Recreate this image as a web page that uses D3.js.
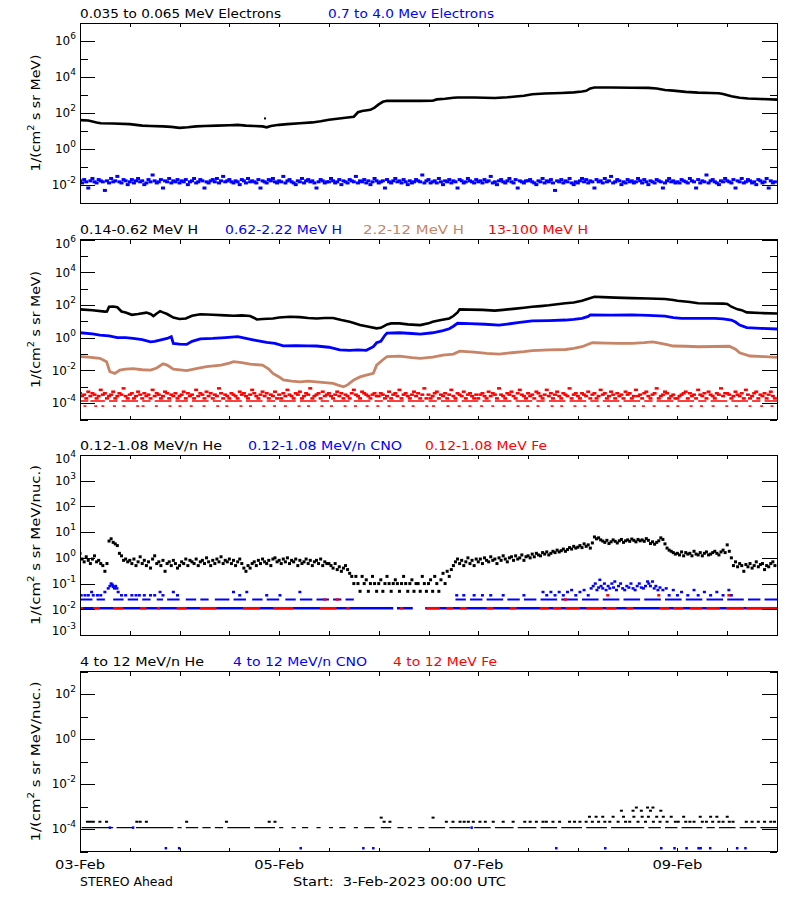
<!DOCTYPE html>
<html><head><meta charset="utf-8">
<script src="https://cdn.jsdelivr.net/npm/d3@7"></script>
<style>
body{margin:0;background:#fff}
svg{display:block}
text{font-family:"DejaVu Sans",sans-serif;white-space:pre}
</style>
</head><body>
<svg id="chart" width="800" height="900"></svg>
<script>
// ---------------- DATA ----------------
// time in hours since 3-Feb-2023 00:00 UTC
const dayLabels = ["03-Feb","05-Feb","07-Feb","09-Feb"];
const dayLabelHours = [0,48,96,144];

// Panel 1 : electrons
const elecLowTitle = "0.035 to 0.065 MeV Electrons";
const elecHighTitle = "0.7 to 4.0 Mev Electrons";
const elecLow = [[0,40],[2,38],[4,30],[5,27],[8,26],[12,24],[15,20],[17,19],[20,18],[22,17],[24,15],[26,16],[28,18],[30,19],[33,20],[36,21],[38,22],[40,20],[42,19],[44,18],[45,16],[46,19],[48,22],[50,24],[53,27],[56,30],[58,35],[60,42],[62,48],[64,55],[66,62],[67,110],[68,130],[70,150],[71,200],[72,300],[73,420],[74,480],[78,470],[82,470],[85,480],[86,570],[88,620],[90,700],[91,720],[95,720],[100,680],[103,750],[105,820],[107,900],[109,1100],[112,1200],[116,1300],[119,1400],[121,1550],[122,1700],[123,2300],[124,2600],[128,2600],[133,2550],[137,2500],[139,2300],[141,1900],[143,1750],[146,1500],[149,1350],[152,1300],[154,1250],[155,1150],[157,850],[159,700],[161,640],[164,600],[168,550]];
const elecLowSpike = [[44.6,50]];
// half-hourly values
const elecHigh = [
0.017,0.013,0.02,0.015,0.0068,0.017,0.023,0.015,0.013,0.02,0.017,0.015,0.005,0.017,0.013,0.023,0.015,0.017,0.03,0.015,0.013,0.02,0.017,0.0105,
0.015,0.02,0.013,0.017,0.023,0.015,0.017,0.0105,0.013,0.02,0.015,0.036,0.017,0.013,0.015,0.02,0.0068,0.017,0.015,0.023,0.013,0.017,0.015,0.02,
0.013,0.017,0.015,0.02,0.0105,0.015,0.017,0.023,0.013,0.015,0.02,0.017,0.0068,0.015,0.013,0.017,0.02,0.015,0.023,0.013,0.017,0.03,0.015,0.017,
0.02,0.015,0.013,0.017,0.015,0.0105,0.02,0.017,0.013,0.023,0.015,0.017,0.015,0.013,0.02,0.0068,0.017,0.015,0.013,0.02,0.017,0.023,0.015,0.013,
0.017,0.015,0.03,0.013,0.017,0.02,0.015,0.013,0.0105,0.017,0.015,0.023,0.013,0.017,0.02,0.015,0.017,0.013,0.0068,0.015,0.02,0.017,0.013,0.015,
0.015,0.023,0.017,0.013,0.015,0.02,0.0105,0.017,0.015,0.013,0.02,0.017,0.015,0.03,0.013,0.017,0.015,0.02,0.013,0.017,0.0105,0.015,0.023,0.017,
0.013,0.015,0.017,0.0068,0.02,0.015,0.013,0.017,0.023,0.015,0.017,0.013,0.02,0.015,0.0105,0.017,0.013,0.015,0.02,0.017,0.015,0.036,0.013,0.017,
0.02,0.013,0.015,0.017,0.013,0.023,0.015,0.0105,0.017,0.015,0.02,0.013,0.017,0.015,0.0068,0.02,0.017,0.013,0.015,0.023,0.017,0.015,0.013,0.02,
0.015,0.017,0.013,0.02,0.015,0.017,0.03,0.013,0.015,0.0105,0.017,0.02,0.015,0.013,0.017,0.023,0.015,0.013,0.02,0.0068,0.017,0.015,0.013,0.017,
0.017,0.02,0.015,0.013,0.0105,0.017,0.015,0.023,0.013,0.017,0.015,0.02,0.013,0.005,0.017,0.015,0.02,0.013,0.017,0.015,0.023,0.013,0.0105,0.015,
0.013,0.017,0.023,0.015,0.02,0.013,0.017,0.015,0.0068,0.02,0.015,0.017,0.013,0.023,0.015,0.017,0.03,0.013,0.015,0.02,0.017,0.0105,0.015,0.013,
0.02,0.015,0.017,0.013,0.015,0.023,0.017,0.013,0.02,0.015,0.0105,0.017,0.015,0.013,0.02,0.017,0.015,0.0068,0.013,0.017,0.023,0.015,0.017,0.013,
0.015,0.013,0.02,0.017,0.015,0.013,0.023,0.017,0.015,0.0068,0.02,0.013,0.017,0.015,0.036,0.013,0.017,0.02,0.015,0.013,0.0105,0.017,0.015,0.023,
0.017,0.015,0.013,0.02,0.0068,0.017,0.015,0.023,0.013,0.015,0.02,0.017,0.013,0.015,0.0105,0.02,0.017,0.013,0.015,0.023,0.0068,0.017,0.013,0.015];

// Panel 2 : protons
const protonTitles = ["0.14-0.62 MeV H","0.62-2.22 MeV H","2.2-12 MeV H","13-100 MeV H"];
const protonLow = [[0,54],[3,48],[6,39],[6.5,40],[7,78],[8,80],[9,72],[10,40],[11,35],[12.5,25],[14,28],[16,34],[17,28],[17.7,21],[18.5,30],[19.3,42],[20,35],[21,28],[22.5,17],[24,14],[25.5,15],[27,22],[29,27],[32,25],[35,23],[37,22],[39,23],[41,21],[42,16],[42.6,13],[44,14],[46.5,15],[48,17],[50.6,19],[53,18],[55,16],[57,15],[59,16],[61,16],[63,12],[65,9.5],[66,8],[67.5,6],[69,5],[71.5,3.7],[72.5,4],[73.5,5.5],[74,6.5],[75,7.5],[77,7.5],[79,6.5],[82,5.9],[84,7.5],[85,9.5],[87,12],[89,15],[90,21],[91,35],[91.5,54],[94,52],[97,50],[100,45],[102,50],[105,60],[107,68],[109,78],[111,85],[113,95],[117,126],[119,140],[121,182],[122.5,240],[124,316],[126,300],[129,280],[133,263],[137,250],[141,229],[143,200],[144,182],[147,150],[149,126],[152,122],[155,120],[156,115],[157,78],[158.5,54],[159.5,48],[160.7,35],[164,32],[168,30]];
const protonMid = [[0,2.0],[3,1.7],[4.8,1.45],[7,1.3],[9,1.0],[11,1.0],[12.8,0.9],[15,0.75],[17,0.56],[18,0.6],[20,0.8],[21,0.9],[22,1.15],[22.5,0.45],[24,0.4],[25.7,0.39],[27,0.6],[29,0.85],[32,0.9],[35,1.0],[38,1.15],[40,0.9],[42,0.72],[45,0.52],[47,0.45],[49,0.32],[52,0.33],[55,0.32],[57,0.31],[60,0.26],[62.6,0.18],[65,0.17],[67,0.18],[69,0.17],[70.7,0.28],[71.5,0.49],[72.5,0.6],[73.5,1.4],[74,1.9],[77,2.0],[80,1.8],[82,1.66],[85,2.0],[87.5,2.7],[89,3.5],[90,5],[91,7.6],[94,7.2],[97.6,6.6],[101,5.9],[103,6.8],[106,8.5],[109,10.5],[113,11],[117,12],[119,13],[121,15],[122.5,20],[123,25],[128,24],[133,25],[137,23],[141,21],[143,17],[145,15],[150,15],[153,15],[155,14],[157,12],[158,9],[159,5.9],[160.7,4.1],[164,3.7],[168,3.4]];
const protonHigh = [[0,0.069],[2,0.065],[4.8,0.055],[6.4,0.034],[7.2,0.0083],[8.4,0.0066],[9.6,0.0105],[11,0.012],[12.8,0.013],[15,0.011],[17,0.0105],[18.5,0.014],[20,0.025],[21,0.021],[22.5,0.012],[25.7,0.0096],[28,0.013],[30.5,0.017],[34,0.021],[36,0.028],[37,0.034],[39,0.03],[41,0.024],[44,0.021],[45.5,0.012],[46.5,0.0066],[48,0.004],[49,0.0026],[51,0.0022],[53,0.002],[55,0.0022],[57,0.002],[59,0.0018],[61,0.0016],[62,0.0013],[63.5,0.001],[64.5,0.0013],[66,0.0026],[67.5,0.004],[69,0.0052],[70.7,0.0066],[71.5,0.021],[73,0.045],[74,0.069],[77,0.075],[80,0.06],[82,0.055],[85,0.065],[87.5,0.087],[90,0.1],[91.5,0.15],[95,0.13],[98,0.11],[101,0.1],[104,0.12],[107,0.14],[109,0.16],[113,0.18],[117,0.19],[119,0.22],[121,0.28],[122.5,0.4],[123.5,0.49],[127,0.46],[130,0.45],[133,0.45],[136,0.5],[138,0.56],[140,0.45],[141.5,0.38],[143,0.31],[146,0.3],[149,0.28],[153,0.29],[156.5,0.3],[158,0.2],[159,0.12],[161.5,0.076],[165,0.07],[168,0.063]];
// half-hourly values, 13-100 MeV H
const protonVHigh = [
4e-4,2.7e-4,3.3e-4,1.95e-4,5e-4,2.7e-4,4e-4,3.3e-4,1.95e-4,2.7e-4,6.5e-4,3.3e-4,4e-4,1.95e-4,2.7e-4,3.3e-4,5e-4,1.95e-4,2.7e-4,4e-4,3.3e-4,8e-4,2.7e-4,1.95e-4,
3.3e-4,4e-4,1.95e-4,2.7e-4,5e-4,3.3e-4,1.95e-4,4e-4,2.7e-4,3.3e-4,1.95e-4,6.5e-4,2.7e-4,4e-4,3.3e-4,1.95e-4,2.7e-4,5e-4,4e-4,1.95e-4,3.3e-4,2.7e-4,4e-4,1.95e-4,
2.7e-4,3.3e-4,5e-4,1.95e-4,4e-4,2.7e-4,3.3e-4,1.95e-4,6.5e-4,2.7e-4,4e-4,3.3e-4,1.95e-4,5e-4,2.7e-4,4e-4,1.95e-4,3.3e-4,2.7e-4,8e-4,4e-4,1.95e-4,3.3e-4,2.7e-4,
1.95e-4,4e-4,3.3e-4,2.7e-4,1.95e-4,5e-4,3.3e-4,4e-4,2.7e-4,1.95e-4,3.3e-4,6.5e-4,4e-4,2.7e-4,1.95e-4,3.3e-4,5e-4,2.7e-4,4e-4,1.95e-4,3.3e-4,2.7e-4,5e-4,1.95e-4,
3.3e-4,1.95e-4,4e-4,2.7e-4,6.5e-4,3.3e-4,2.7e-4,1.95e-4,4e-4,3.3e-4,5e-4,1.95e-4,2.7e-4,4e-4,3.3e-4,8e-4,1.95e-4,2.7e-4,3.3e-4,4e-4,1.95e-4,5e-4,2.7e-4,3.3e-4,
4e-4,2.7e-4,1.95e-4,3.3e-4,5e-4,2.7e-4,4e-4,1.95e-4,3.3e-4,2.7e-4,1.95e-4,4e-4,6.5e-4,3.3e-4,2.7e-4,1.95e-4,5e-4,4e-4,3.3e-4,2.7e-4,1.95e-4,3.3e-4,4e-4,2.7e-4,
2.7e-4,4e-4,3.3e-4,1.95e-4,2.7e-4,5e-4,1.95e-4,3.3e-4,4e-4,2.7e-4,6.5e-4,1.95e-4,3.3e-4,4e-4,2.7e-4,1.95e-4,3.3e-4,5e-4,2.7e-4,4e-4,1.95e-4,3.3e-4,8e-4,1.95e-4,
3.3e-4,1.95e-4,2.7e-4,4e-4,5e-4,1.95e-4,3.3e-4,2.7e-4,4e-4,1.95e-4,3.3e-4,6.5e-4,2.7e-4,1.95e-4,4e-4,3.3e-4,2.7e-4,5e-4,1.95e-4,3.3e-4,4e-4,2.7e-4,1.95e-4,3.3e-4,
1.95e-4,3.3e-4,4e-4,2.7e-4,1.95e-4,5e-4,2.7e-4,4e-4,3.3e-4,1.95e-4,8e-4,3.3e-4,2.7e-4,1.95e-4,4e-4,3.3e-4,5e-4,2.7e-4,1.95e-4,4e-4,6.5e-4,3.3e-4,2.7e-4,1.95e-4,
4e-4,2.7e-4,3.3e-4,1.95e-4,5e-4,4e-4,2.7e-4,1.95e-4,3.3e-4,6.5e-4,2.7e-4,4e-4,1.95e-4,3.3e-4,5e-4,2.7e-4,1.95e-4,4e-4,3.3e-4,2.7e-4,8e-4,1.95e-4,3.3e-4,4e-4,
2.7e-4,1.95e-4,4e-4,3.3e-4,2.7e-4,5e-4,1.95e-4,3.3e-4,4e-4,1.95e-4,2.7e-4,6.5e-4,3.3e-4,4e-4,1.95e-4,2.7e-4,5e-4,3.3e-4,1.95e-4,4e-4,2.7e-4,3.3e-4,1.95e-4,5e-4,
3.3e-4,4e-4,1.95e-4,2.7e-4,6.5e-4,2.7e-4,3.3e-4,1.95e-4,4e-4,5e-4,2.7e-4,1.95e-4,3.3e-4,4e-4,8e-4,1.95e-4,2.7e-4,3.3e-4,5e-4,4e-4,1.95e-4,2.7e-4,3.3e-4,1.95e-4,
1.95e-4,2.7e-4,3.3e-4,4e-4,5e-4,1.95e-4,4e-4,2.7e-4,3.3e-4,1.95e-4,6.5e-4,3.3e-4,2.7e-4,4e-4,1.95e-4,5e-4,3.3e-4,2.7e-4,1.95e-4,4e-4,3.3e-4,8e-4,2.7e-4,4e-4,
4e-4,3.3e-4,1.95e-4,2.7e-4,5e-4,3.3e-4,2.7e-4,4e-4,1.95e-4,6.5e-4,3.3e-4,1.95e-4,2.7e-4,4e-4,5e-4,1.95e-4,3.3e-4,2.7e-4,4e-4,1.95e-4,3.3e-4,5e-4,2.7e-4,1.95e-4];
const protonVHighRowLevel = 1.35e-4;
const protonVHighRow = [[0,2],[2.5,6],[7,9],[10,14],[15,17],[18,22],[23,26],[27,31],[32,34],[35,39],[40,44],[45,47],[48,52],[53,57],[58,60],[61,65],[66,70],[71,73],[74,78],[79,83],[84,86],[87,91],[92,96],[97,99],[100,104],[105,109],[110,112],[113,117],[118,122],[123,125],[126,130],[131,135],[136,138],[139,143],[144,148],[149,151],[152,156],[157,161],[162,164],[165,168]];
const protonVHighLowLevel = 6.6e-5;
const protonVHighLow = [1.2,3.8,5.5,8.3,10.6,13.9,15.2,18.4,21.7,24.1,26.8,29.9,33.2,35.4,38.8,41.1,44.3,46.9,49.5,52.8,55.1,58.3,60.6,63.9,66.4,69.2,71.8,74.5,77.9,80.3,83.6,85.2,88.7,91.4,94.0,96.8,99.5,102.2,105.6,107.9,110.4,113.8,116.1,119.3,121.7,124.9,127.4,130.2,133.6,135.8,138.4,141.7,144.1,147.3,149.8,152.6,155.9,158.2,161.5,164.3,166.8];

// Panel 3 : low energy heavy ions
const ionLowTitles = ["0.12-1.08 MeV/n He","0.12-1.08 MeV/n CNO","0.12-1.08 MeV Fe"];
// half-hourly He values
const heLow = [
1.5,0.9,0.7,1.1,0.8,0.6,0.9,1.2,0.7,0.8,0.6,0.5,0.3,0.6,4.5,5.5,4.0,3.5,3.0,1.5,1.2,0.8,0.9,0.7,
0.8,0.6,0.9,0.5,0.7,1.1,0.6,0.8,0.5,0.7,0.4,0.9,1.2,0.6,0.7,0.5,0.8,0.3,0.6,0.7,0.5,0.8,0.6,0.4,
0.5,0.7,0.6,0.9,0.5,0.8,0.7,0.6,0.9,0.5,0.7,0.8,0.6,1.0,0.7,0.5,0.8,0.6,0.9,0.7,1.1,0.6,0.8,0.7,
0.9,0.6,0.8,0.5,0.7,0.9,0.6,0.4,0.3,0.5,0.4,0.6,0.7,0.5,0.8,0.6,0.9,0.7,0.6,0.8,0.5,0.9,1.0,0.7,
0.8,0.6,0.9,0.7,1.0,0.6,0.8,0.7,0.9,0.5,0.8,0.6,0.7,0.9,0.6,0.8,0.5,0.7,0.8,0.6,0.9,0.5,0.7,0.6,
0.6,0.5,0.4,0.6,0.35,0.45,0.3,0.4,0.5,0.35,0.25,0.19,0.1,0.19,0.1,0.05,0.19,0.1,0.14,0.05,0.1,0.19,0.1,0.05,
0.1,0.14,0.05,0.1,0.19,0.1,0.05,0.1,0.14,0.1,0.05,0.1,0.19,0.1,0.05,0.1,0.14,0.05,0.1,0.1,0.05,0.19,0.1,0.05,
0.1,0.14,0.05,0.19,0.1,0.05,0.14,0.25,0.1,0.3,0.19,0.35,0.5,0.7,0.9,0.6,0.8,0.5,0.7,1.0,0.6,0.8,0.5,0.9,
0.7,0.9,0.6,1.0,0.8,0.7,1.1,0.8,0.9,0.6,1.0,0.8,1.2,0.9,0.7,1.0,1.1,0.8,1.2,0.9,1.0,1.3,0.8,1.1,
1.2,1.0,1.4,1.1,1.5,1.3,1.2,1.6,1.4,1.7,1.3,1.5,1.8,1.6,2.0,1.7,1.9,2.2,1.8,2.1,2.5,2.2,2.8,2.4,
2.6,3.0,2.5,3.5,2.8,3.2,2.4,3.8,6.5,5.5,6.0,5.0,4.5,4.0,4.8,3.6,4.2,5.0,4.4,3.8,4.6,5.2,4.0,4.6,
5.0,4.4,5.4,4.8,4.2,5.2,4.6,5.0,4.4,5.6,4.8,3.6,4.2,3.4,4.0,4.6,6.0,5.2,3.5,2.4,2.0,1.8,1.6,1.4,
1.5,1.3,1.7,1.2,1.6,1.4,1.5,1.2,1.8,1.4,1.3,1.6,1.2,1.5,1.7,1.3,1.4,1.6,1.8,1.5,1.3,1.7,2.0,1.6,
3.2,1.8,1.0,0.5,0.7,0.45,0.6,0.5,0.3,0.55,0.45,0.6,0.4,0.5,0.7,0.45,0.55,0.6,0.35,0.5,0.45,0.6,0.7,0.5];
const cnoBaseLevel = 0.011;
const cnoBase = [[0,75.5],[76.4,80.2],[83.2,168]];
const feBase = [[0,0.8],[3.2,4.8],[8,10.4],[14.5,16],[18.5,19.3],[23.3,25.7],[28.9,32.9],[39.3,43.4],[46.6,51.4],[57.8,61.8],[64.2,65],[77.1,77.9],[83.5,86.7],[88.3,89.9],[91.6,93.2],[98,99.6],[103.6,105.2],[110.8,113],[114,116],[117,120.5],[122,126],[126.8,129.3],[131.7,133.3],[139.7,142],[143,145.4],[147,150],[151,154.2],[155.8,160],[160.6,168]];
const cnoMidLevel = 0.024;
const cnoMid = [[0,3],[4,6],[8,10.5],[11.5,14],[15,17],[18.5,20],[21,24],[25.5,28],[29,31],[32.5,36],[37,40],[41.5,44],[45,48],[49.5,52],[53,56],[57,60],[61,63],[64,66],[90.5,93],[94,97],[98,102],[103,106],[107,110],[111,115],[116,120],[121,125],[126,130],[131,135],[136,140],[141,145],[146,150],[151,155],[156,160],[161,164],[165,168]];
const cnoScatter = [[0.3,0.035],[1.2,0.035],[2,0.035],[2.8,0.047],[3.2,0.035],[4.2,0.035],[5,0.035],[6,0.047],[6.8,0.065],[7.2,0.08],[7.5,0.1],[7.8,0.09],[8,0.075],[8.3,0.065],[8.6,0.08],[8.9,0.065],[9.2,0.047],[10,0.035],[11,0.035],[12.5,0.035],[13.5,0.035],[14.3,0.035],[15.5,0.035],[17,0.035],[18,0.035],[19.3,0.047],[20,0.035],[22.5,0.047],[23.5,0.035],[37,0.047],[38.5,0.035],[40.2,0.047],[45,0.035],[48.2,0.035],[53,0.047],
[90.8,0.035],[92.5,0.035],[95,0.035],[97,0.035],[99,0.035],[102,0.035],[107,0.035],[111.6,0.047],[112.5,0.035],[113.5,0.047],[114.5,0.035],[115.5,0.047],[116.5,0.035],[117.5,0.047],[118.5,0.056],[119.5,0.035],[120.5,0.047],[121.5,0.056],[122.5,0.035],[123.2,0.065],[123.7,0.08],[124.2,0.1],[124.6,0.056],[125,0.07],[125.3,0.14],[125.6,0.08],[126,0.065],[126.4,0.1],[126.8,0.056],[127.3,0.08],[127.7,0.065],[128.2,0.1],[128.6,0.07],[128.9,0.12],[129.3,0.056],[129.8,0.08],[130.3,0.1],[130.8,0.065],[131.3,0.056],[131.8,0.08],[132.3,0.07],[132.8,0.1],[133.3,0.065],[133.8,0.056],[134.3,0.08],[134.8,0.1],[135.3,0.07],[135.8,0.065],[136.3,0.08],[136.8,0.12],[137.1,0.1],[137.5,0.08],[138,0.12],[138.4,0.065],[138.8,0.08],[139.3,0.056],[139.8,0.07],[140.5,0.056],[141.3,0.065],[142,0.035],[143,0.056],[144,0.035],[145,0.047],[146.5,0.035],[148,0.056],[149,0.035],[150.5,0.047],[152,0.035],[153.5,0.047],[155,0.035],[156.4,0.056],[157,0.035]];
const feScatter = [[59,0.024],[62,0.024],[117,0.024],[127.2,0.035],[139.5,0.035],[156.4,0.035]];

// Panel 4 : high energy heavy ions
const ionHighTitles = ["4 to 12 MeV/n He","4 to 12 MeV/n CNO","4 to 12 MeV Fe"];
const heHighBaseLevel = 1.15e-4;
const heHighBase = [[0.4,8],[8.8,12.8],[13.5,22.5],[23.5,24.5],[25.5,28.5],[29.5,31.5],[32.5,34.5],[35.5,41],[42,47],[48,49],[51,52],[53.5,55],[57,58],[60,61],[62.5,64],[66,67],[68.5,71],[72.5,75],[76.5,78],[79,80],[81.5,83],[84,88],[89,94],[95,99],[100,104.5],[105.5,110],[111,115],[116,121],[122,127],[128,136],[137,140],[141,144],[145,150],[151,153],[154,158],[159,163],[164,168]];
const heHighScatter = [[1.8,2.1e-4],[2.5,2.1e-4],[3.2,2.1e-4],[4.8,2.1e-4],[6.4,2.1e-4],[13.7,2.1e-4],[14.5,2.1e-4],[16,2.1e-4],[25.7,2.1e-4],[35.3,2.1e-4],[45.6,2.1e-4],[47,2.1e-4],[72.6,3.2e-4],[73.3,2.1e-4],[74.7,2.1e-4],
[85.1,3.2e-4],[88.3,2.1e-4],[89.9,2.1e-4],[91.6,2.1e-4],[92.6,2.1e-4],[93.6,2.1e-4],[94.8,2.1e-4],[96.4,2.1e-4],[97.7,2.1e-4],[99.6,2.1e-4],[102,2.1e-4],[104.4,2.1e-4],[107.2,2.1e-4],[108.5,2.1e-4],[110,2.1e-4],[111.6,2.1e-4],[112.4,2.1e-4],[114,2.1e-4],[115.6,2.1e-4],[118,2.1e-4],[119.2,2.1e-4],[120.5,2.1e-4],[122,2.1e-4],[122.8,3.5e-4],[123.5,2.1e-4],[124.4,3.5e-4],[125,2.1e-4],[126,3.5e-4],[126.5,2.1e-4],[127.7,2.1e-4],[128.5,3.5e-4],[129.7,2.1e-4],[130.5,6.5e-4],[131,3.5e-4],[131.5,2.1e-4],[132.5,2.1e-4],[133.3,6.5e-4],[133.5,3.5e-4],[134.1,9e-4],[134.5,2.1e-4],[135.3,6.5e-4],[135.5,3.5e-4],[136.3,2.1e-4],[136.8,9e-4],[137,3.5e-4],[137.5,6.5e-4],[138.1,9e-4],[138.2,2.1e-4],[139,3.5e-4],[139.8,2.1e-4],[140,6.5e-4],[140.6,3.5e-4],[141.5,2.1e-4],[142.5,3.5e-4],[143.5,2.1e-4],[144.2,2.1e-4],[145.5,3.5e-4],[146,2.1e-4],[147,2.1e-4],[148,2.1e-4],[149.5,3.5e-4],[150,2.1e-4],[151,2.1e-4],[152,3.5e-4],[152.5,2.1e-4],[153.5,3.5e-4],[154,2.1e-4],[155,2.1e-4],[156,3.5e-4],[156.5,2.1e-4],[157.4,2.1e-4],[160.6,2.1e-4],[162,2.1e-4],[163.5,2.1e-4],[165,2.1e-4],[166.5,2.1e-4],[167.4,2.1e-4]];
const cnoHigh = [[7.2,1.15e-4],[12.8,1.15e-4],[94.4,1.15e-4],[20.7,1.4e-5],[23.9,1.4e-5],[53.2,1.4e-5],[68.3,1.4e-5],[70.7,1.4e-5],[114.8,1.4e-5],[126.6,1.4e-5],[140.1,1.4e-5],[143.3,1.4e-5],[146.2,1.4e-5],[149.1,1.4e-5],[149.6,1.4e-5],[151.9,1.4e-5],[158.4,1.4e-5],[160.4,1.4e-5]];

// axis decades (exponents)
const p1Major = [-2,0,2,4,6], p1Minor = [-3,-1,1,3,5,7];
const p2Major = [-4,-2,0,2,4,6], p2Minor = [-5,-3,-1,1,3,5];
const p3Major = [-3,-2,-1,0,1,2,3,4], p3Minor = [];
const p4Major = [-4,-2,0,2], p4Minor = [-5,-3,-1,1,3];
const yTitleElec = ["1/(cm","2"," s sr MeV)"];
const yTitleIon = ["1/(cm","2"," s sr MeV/nuc.)"];
const footLeft = "STEREO Ahead";
const footStart = "Start:  3-Feb-2023 00:00 UTC";

// ---------------- DRAWING ----------------
const BLACK="#000000", BLUE="#0000ff", RED="#ff0000", TAN="#c88466";
const svg = d3.select("#chart");
const HMS = 3600e3;
const t0 = Date.UTC(2023,1,3);
const x = d3.scaleUtc().domain([new Date(t0), new Date(t0+168*HMS)]).range([80,777]);
const X = h => x(new Date(t0 + h*HMS));
const L = 80, R = 777, PH = 180;

const panels = [
 {top:23, lo:1e-3, hi:1e7, major:p1Major, minor:p1Minor, ytitle:yTitleElec, ylen:117,
  titles:[[elecLowTitle,80,201,BLACK],[elecHighTitle,328,166,BLUE]], tb:18},
 {top:239.5, lo:1e-5, hi:1e6, major:p2Major, minor:p2Minor, ytitle:yTitleElec, ylen:117,
  titles:[[protonTitles[0],80,118,BLACK],[protonTitles[1],225,117,BLUE],[protonTitles[2],363,101,TAN],[protonTitles[3],488,100,RED]], tb:234},
 {top:455, lo:1e-3, hi:1e4, major:p3Major, minor:p3Minor, ytitle:yTitleIon, ylen:160,
  titles:[[ionLowTitles[0],80,142,BLACK],[ionLowTitles[1],248,154,BLUE],[ionLowTitles[2],425,122,RED]], tb:449.5},
 {top:671.5, lo:1e-5, hi:1e3, major:p4Major, minor:p4Minor, ytitle:yTitleIon, ylen:160,
  titles:[[ionHighTitles[0],80,124,BLACK],[ionHighTitles[1],233,134,BLUE],[ionHighTitles[2],393,104,RED]], tb:665.5}
];

const xTicks = x.ticks(d3.utcHour.every(12));

panels.forEach((p,pi) => {
  const bottom = p.top + PH;
  p.y = d3.scaleLog().domain([p.lo,p.hi]).range([bottom,p.top]);
  const g = svg.append("g");
  const cid = "clip"+pi;
  svg.append("clipPath").attr("id",cid).append("rect")
    .attr("x",L).attr("y",p.top).attr("width",R-L).attr("height",PH);
  p.plot = g.append("g").attr("clip-path",`url(#${cid})`);

  // axes
  const ax = g.append("g").attr("shape-rendering","crispEdges");
  const tv = e => e.map(v => Math.pow(10,v));
  const fix = s => s.call(a=>a.select(".domain").remove()).selectAll("line").attr("stroke","#000");
  ax.append("g").attr("transform",`translate(${L},0)`).call(d3.axisRight(p.y).tickValues(tv(p.major)).tickSize(15).tickFormat("")).call(fix);
  ax.append("g").attr("transform",`translate(${L},0)`).call(d3.axisRight(p.y).tickValues(tv(p.minor)).tickSize(7.5).tickFormat("")).call(fix);
  ax.append("g").attr("transform",`translate(${R},0)`).call(d3.axisLeft(p.y).tickValues(tv(p.major)).tickSize(15).tickFormat("")).call(fix);
  ax.append("g").attr("transform",`translate(${R},0)`).call(d3.axisLeft(p.y).tickValues(tv(p.minor)).tickSize(7.5).tickFormat("")).call(fix);
  ax.append("g").attr("transform",`translate(0,${bottom})`).call(d3.axisTop(x).tickValues(xTicks).tickSize(4).tickFormat("")).call(fix);
  ax.append("g").attr("transform",`translate(0,${p.top})`).call(d3.axisBottom(x).tickValues(xTicks).tickSize(4).tickFormat("")).call(fix);
  ax.selectAll("text").remove();
  ax.append("rect").attr("x",L).attr("y",p.top).attr("width",R-L).attr("height",PH)
    .attr("fill","none").attr("stroke","#000").attr("stroke-width",1);

  // tick labels
  p.major.forEach(e => {
    let yy = p.y(Math.pow(10,e));
    if (Math.abs(yy-p.top)<1) yy += 4;
    if (Math.abs(yy-bottom)<1) yy -= 4;
    const t = g.append("text").attr("x",76).attr("y",yy+4.3).attr("text-anchor","end")
      .attr("font-size",12).attr("fill","#000");
    t.append("tspan").text("10");
    t.append("tspan").attr("dy",-6).attr("font-size",9).text(String(e));
  });

  // y title
  const cy = p.top + PH/2;
  const yt = g.append("text").attr("transform",`translate(40,${cy}) rotate(-90)`)
    .attr("text-anchor","middle").attr("font-size",13).attr("fill","#000")
    .attr("textLength",p.ylen).attr("lengthAdjust","spacingAndGlyphs");
  yt.append("tspan").text(p.ytitle[0]);
  yt.append("tspan").attr("dy",-6).attr("font-size",9).text(p.ytitle[1]);
  yt.append("tspan").attr("dy",6).text(p.ytitle[2]);

  // titles
  p.titles.forEach(([s,tx,w,c]) => {
    g.append("text").attr("x",tx).attr("y",p.tb).attr("font-size",12.5).attr("fill",c)
      .attr("textLength",w).attr("lengthAdjust","spacingAndGlyphs").text(s);
  });
});

// mark helpers
const line = (p, data, color, w) => p.plot.append("path").datum(data)
  .attr("fill","none").attr("stroke",color).attr("stroke-width",w)
  .attr("d", d3.line().x(d=>X(d[0])).y(d=>p.y(d[1])));
const pts = (p, data, color, w, h) => p.plot.append("g").selectAll("rect").data(data).join("rect")
  .attr("x",d=>X(d[0])-w/2).attr("y",d=>p.y(d[1])-h/2).attr("width",w).attr("height",h).attr("fill",color);
const halfHourly = arr => arr.map((v,i) => [i*0.5, v]);
const segs = (p, data, level, color, h) => p.plot.append("g").selectAll("rect").data(data).join("rect")
  .attr("x",d=>X(d[0])).attr("y",p.y(level)-h/2).attr("width",d=>Math.max(1.5,X(d[1])-X(d[0])))
  .attr("height",h).attr("fill",color);

// Panel 1
const [P1,P2,P3,P4] = panels;
line(P1, elecLow, BLACK, 2.6);
pts(P1, elecLowSpike, BLACK, 2, 2);
pts(P1, halfHourly(elecHigh), BLUE, 4, 3);

// Panel 2
line(P2, protonLow, BLACK, 2.6);
line(P2, protonMid, BLUE, 2.8);
line(P2, protonHigh, TAN, 2.8);
pts(P2, halfHourly(protonVHigh), RED, 4, 2.5);
segs(P2, protonVHighRow, protonVHighRowLevel, RED, 1.5);
pts(P2, protonVHighLow.map(h=>[h,protonVHighLowLevel]), RED, 3, 1.5);

// Panel 3
pts(P3, halfHourly(heLow), BLACK, 3, 3);
segs(P3, cnoBase, cnoBaseLevel, BLUE, 2.5);
segs(P3, feBase, cnoBaseLevel, RED, 2.5);
segs(P3, cnoMid, cnoMidLevel, BLUE, 2);
pts(P3, cnoScatter, BLUE, 3, 2.5);
pts(P3, feScatter, RED, 3, 2.5);

// Panel 4
segs(P4, heHighBase, heHighBaseLevel, BLACK, 1.2);
pts(P4, heHighScatter, BLACK, 3, 2);
pts(P4, cnoHigh, BLUE, 2.5, 2.5);

// bottom labels
dayLabels.forEach((s,i) => {
  svg.append("text").attr("x",X(dayLabelHours[i])).attr("y",869).attr("text-anchor","middle")
    .attr("font-size",12.5).attr("textLength",50).attr("lengthAdjust","spacingAndGlyphs").text(s);
});
svg.append("text").attr("x",80).attr("y",885.5).attr("font-size",12.5)
  .attr("textLength",93).attr("lengthAdjust","spacingAndGlyphs").text(footLeft);
svg.append("text").attr("x",293).attr("y",885.5).attr("font-size",12.5)
  .attr("textLength",213).attr("lengthAdjust","spacingAndGlyphs").text(footStart);
</script>
</body></html>
